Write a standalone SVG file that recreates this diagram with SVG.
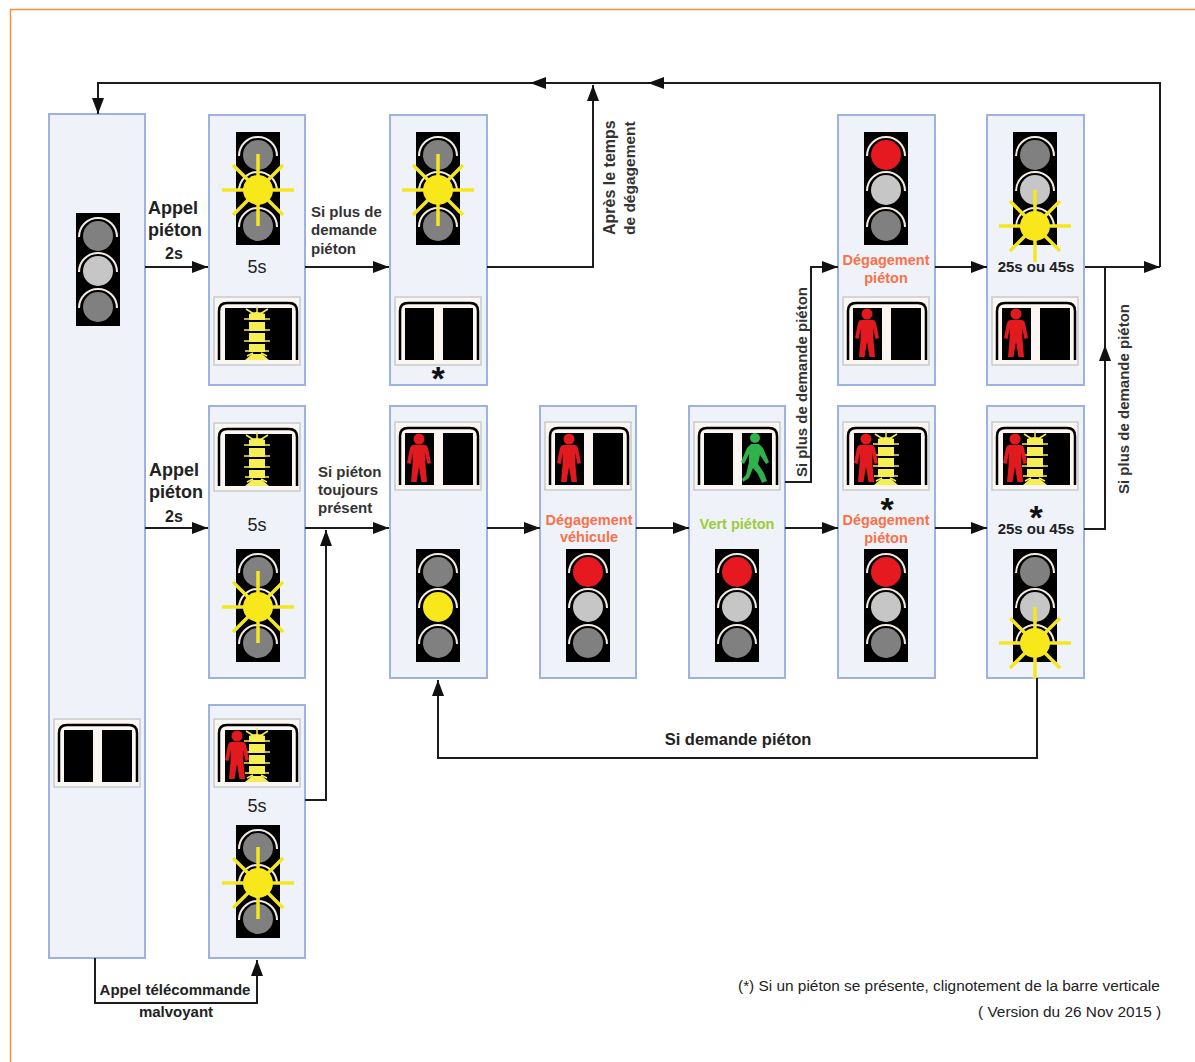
<svg xmlns="http://www.w3.org/2000/svg" width="1195" height="1062" viewBox="0 0 1195 1062">
<style>
text{font-family:"Liberation Sans",Arial,sans-serif;fill:#222}
.b{font-weight:bold}
.box{fill:#eff3f9;stroke:#9db2e3;stroke-width:2}
.con{fill:none;stroke:#1c1c1c;stroke-width:2}
.arc{fill:none;stroke:#f3ebe3;stroke-width:2}
.ray{stroke:#f5e61e;stroke-width:3.500;fill:none}
.orange{fill:#f9714a;font-size:14.500px;font-weight:bold;text-anchor:middle}
.dur{font-size:15px;font-weight:bold;text-anchor:middle}
.lbl{font-size:15px;font-weight:bold;fill:#333}
.t{font-size:18px;fill:#222;text-anchor:middle}
.star{font-size:34px;font-weight:bold;fill:#111;text-anchor:middle}
.note{font-size:15.400px}
</style>
<defs>
<marker id="arr" viewBox="0 0 14 12" refX="14" refY="6" markerWidth="16" markerHeight="12" markerUnits="userSpaceOnUse" orient="auto" preserveAspectRatio="none"><path d="M0 0L14 6L0 12z" fill="#111"/></marker>
<g id="tl">
<rect width="44" height="113" fill="#000"/>
<path class="arc" d="M3 24A19 19 0 0 1 41 24M3 59A19 19 0 0 1 41 59M3 95A19 19 0 0 1 41 95"/>
</g>
<circle id="lg" r="15" fill="#808080"/>
<circle id="ll" r="15" fill="#c6c6c6"/>
<circle id="lr" r="15" fill="#e5191f"/>
<circle id="ly" r="15" fill="#f7e71b"/>
<g id="burst">
<path class="ray" d="M-36 0H36M0 -36V36M-25 -25L25 25M-25 25L25 -25"/>
<circle r="15" fill="#f7e71b"/>
</g>
<g id="tl-grey"><use href="#tl"/><use href="#lg" x="22" y="23"/><use href="#ll" x="22" y="58"/><use href="#lg" x="22" y="94"/></g>
<g id="tl-red"><use href="#tl"/><use href="#lr" x="22" y="23"/><use href="#ll" x="22" y="58"/><use href="#lg" x="22" y="94"/></g>
<g id="tl-yel"><use href="#tl"/><use href="#lg" x="22" y="23"/><use href="#ly" x="22" y="58"/><use href="#lg" x="22" y="94"/></g>
<g id="tl-bm"><use href="#tl"/><use href="#lg" x="22" y="23"/><use href="#lg" x="22" y="94"/><use href="#burst" x="22" y="58"/></g>
<g id="tl-bb"><use href="#tl"/><use href="#lg" x="22" y="23"/><use href="#ll" x="22" y="58"/><use href="#burst" x="22" y="94"/></g>
<g id="frame">
<rect width="86" height="68" fill="#fbf6f1" stroke="#c6cccc" stroke-width="1.500"/>
<path d="M5 63V14Q5 6 13 6H75Q83 6 83 14V63" fill="none" stroke="#000" stroke-width="2.500"/>
</g>
<g id="two"><use href="#frame"/><rect x="10" y="11" width="29" height="52" fill="#000"/><rect x="48" y="11" width="30" height="52" fill="#000"/></g>
<g id="one"><use href="#frame"/><rect x="11" y="11" width="67" height="52" fill="#000"/></g>
<g id="bar">
<path d="M32 12L40 17M54 12L46 17M43 9V16M30 22H56M30 33H56M30 44H56M31 54H55M33 59L39 56M53 59L47 56" stroke="#f4ec5a" stroke-width="1.500" fill="none"/>
<path d="M35 17Q43 13 51 17V23H35zM35 25H51V34H35zM35 36H51V45H35zM35 47H51V55H35z" fill="#f6ee55"/>
<path d="M38 57H48L55 63H31z" fill="#f6ee55"/>
</g>
<g id="man">
<circle cx="0" cy="-20" r="5.500"/>
<path d="M-6 -14H6Q8 -14 9 -11L12 4L8.500 5L6 -6L6.500 6L8 23H2.500L0 8L-2.500 23H-8L-6.500 6L-6 -6L-8.500 5L-12 4L-9 -11Q-8 -14 -6 -14z"/>
</g>
<g id="walk">
<circle cx="0" cy="-21" r="5"/>
<path d="M-4 -15H4L8 -11L14 3L11 5L5 -4L3 5L9 14L12 22L7 24L3 15L-2 9L-6 19L-12 23L-13 20L-9 16L-6 3L-6 -5L-11 5L-14 3L-8 -11z"/>
</g>
<g id="pedl"><use href="#two"/><use href="#man" x="24" y="37" fill="#e01a1f"/></g>
<g id="pedg"><use href="#two"/><use href="#walk" x="61" y="37" fill="#2fb24c"/></g>
<g id="pedb"><use href="#one"/><use href="#bar"/></g>
<g id="pedrb"><use href="#one"/><use href="#bar"/><use href="#man" x="23" y="37" fill="#e01a1f"/></g>
</defs>
<rect width="1195" height="1062" fill="#fff"/>
<path d="M10.500 1062V9.500H1195" fill="none" stroke="#f8922e" stroke-width="1.500"/>

<g id="n1"><rect class="box" x="49" y="114" width="96" height="844"/><use href="#tl-grey" x="76" y="213"/><use href="#two" x="54" y="719"/></g>
<g id="n2"><rect class="box" x="209" y="115" width="96" height="270"/><use href="#tl-bm" x="236" y="132"/><text class="t" x="257" y="273">5s</text><use href="#pedb" x="214" y="297"/></g>
<g id="n3"><rect class="box" x="390" y="115" width="97" height="270"/><use href="#tl-bm" x="416" y="132"/><use href="#two" x="395" y="297"/><text class="star" x="438" y="390">*</text></g>
<g id="n4"><rect class="box" x="838" y="115" width="97" height="270"/><use href="#tl-red" x="864" y="132"/><text class="orange" x="886" y="265">Dégagement</text><text class="orange" x="886" y="283">piéton</text><use href="#pedl" x="843" y="297"/></g>
<g id="n5"><rect class="box" x="987" y="115" width="97" height="270"/><use href="#tl-bb" x="1013" y="132"/><text class="dur" x="1036" y="272">25s ou 45s</text><use href="#pedl" x="992" y="297"/></g>
<g id="n6"><rect class="box" x="209" y="406" width="96" height="272"/><use href="#pedb" x="214" y="423"/><text class="t" x="257" y="531">5s</text><use href="#tl-bm" x="236" y="549"/></g>
<g id="n7"><rect class="box" x="390" y="406" width="97" height="272"/><use href="#pedl" x="395" y="422"/><use href="#tl-yel" x="416" y="549"/></g>
<g id="n8"><rect class="box" x="540" y="406" width="96" height="272"/><use href="#pedl" x="545" y="422"/><text class="orange" x="589" y="525">Dégagement</text><text class="orange" x="589" y="542">véhicule</text><use href="#tl-red" x="566" y="549"/></g>
<g id="n9"><rect class="box" x="689" y="406" width="96" height="272"/><use href="#pedg" x="694" y="422"/><text class="b" x="737" y="529" text-anchor="middle" font-size="14.500" style="fill:#9dcb3b">Vert piéton</text><use href="#tl-red" x="715" y="549"/></g>
<g id="n10"><rect class="box" x="838" y="406" width="97" height="272"/><use href="#pedrb" x="843" y="422"/><text class="star" x="887" y="521">*</text><text class="orange" x="886" y="525">Dégagement</text><text class="orange" x="886" y="543">piéton</text><use href="#tl-red" x="864" y="549"/></g>
<g id="n11"><rect class="box" x="987" y="406" width="97" height="272"/><use href="#pedrb" x="992" y="422"/><text class="star" x="1036" y="529">*</text><text class="dur" x="1036" y="534">25s ou 45s</text><use href="#tl-bb" x="1013" y="549"/></g>
<g id="n12"><rect class="box" x="209" y="705" width="96" height="253"/><use href="#pedrb" x="214" y="719"/><text class="t" x="257" y="812">5s</text><use href="#tl-bm" x="236" y="825"/></g>

<g id="connectors" class="con">
<path d="M1085 267H1160" marker-end="url(#arr)"/>
<path d="M1160 267V83H648" marker-end="url(#arr)"/>
<path d="M648 83H530" marker-end="url(#arr)"/>
<path d="M530 83H98V114" marker-end="url(#arr)"/>
<path d="M487 267H593V85" marker-end="url(#arr)"/>
<path d="M145 267H208" marker-end="url(#arr)"/>
<path d="M305 267H389" marker-end="url(#arr)"/>
<path d="M935 267H987" marker-end="url(#arr)"/>
<path d="M785 482H811V267H838" marker-end="url(#arr)"/>
<path d="M145 528H208" marker-end="url(#arr)"/>
<path d="M305 528H389" marker-end="url(#arr)"/>
<path d="M305 800H326V530" marker-end="url(#arr)"/>
<path d="M487 528H540" marker-end="url(#arr)"/>
<path d="M636 528H689" marker-end="url(#arr)"/>
<path d="M785 528H838" marker-end="url(#arr)"/>
<path d="M935 528H987" marker-end="url(#arr)"/>
<path d="M1084 529H1105V345" marker-end="url(#arr)"/>
<path d="M1105 345V267"/>
<path d="M1037 678V758H438V680" marker-end="url(#arr)"/>
<path d="M95 958V1003H257V960" marker-end="url(#arr)"/>
</g>

<g id="labels">
<text class="b" x="148" y="214" font-size="18">Appel</text>
<text class="b" x="148" y="236" font-size="18">piéton</text>
<text x="165" y="259" font-size="16" class="b">2s</text>
<text class="b" x="149" y="476" font-size="18">Appel</text>
<text class="b" x="149" y="498" font-size="18">piéton</text>
<text x="165" y="522" font-size="16" class="b">2s</text>
<text class="lbl" x="311" y="217">Si plus de</text>
<text class="lbl" x="311" y="235">demande</text>
<text class="lbl" x="311" y="254">piéton</text>
<text class="lbl" x="318" y="477">Si piéton</text>
<text class="lbl" x="318" y="495">toujours</text>
<text class="lbl" x="318" y="513">présent</text>
<text class="lbl" transform="translate(615 235) rotate(-90)" style="font-size:16px">Après le temps</text>
<text class="lbl" transform="translate(635 235) rotate(-90)" style="font-size:15.500px">de dégagement</text>
<text class="lbl" transform="translate(807 477) rotate(-90)">Si plus de demande piéton</text>
<text class="lbl" transform="translate(1129 494) rotate(-90)">Si plus de demande piéton</text>
<text class="b" x="738" y="745" text-anchor="middle" font-size="16.500">Si demande piéton</text>
<text class="b" x="175" y="995" text-anchor="middle" font-size="15">Appel télécommande</text>
<text class="b" x="176" y="1017" text-anchor="middle" font-size="15">malvoyant</text>
<text class="note" x="738" y="991">(*) Si un piéton se présente, clignotement de la barre verticale</text>
<text class="note" x="978" y="1017">( Version du 26 Nov 2015 )</text>
</g>
</svg>
